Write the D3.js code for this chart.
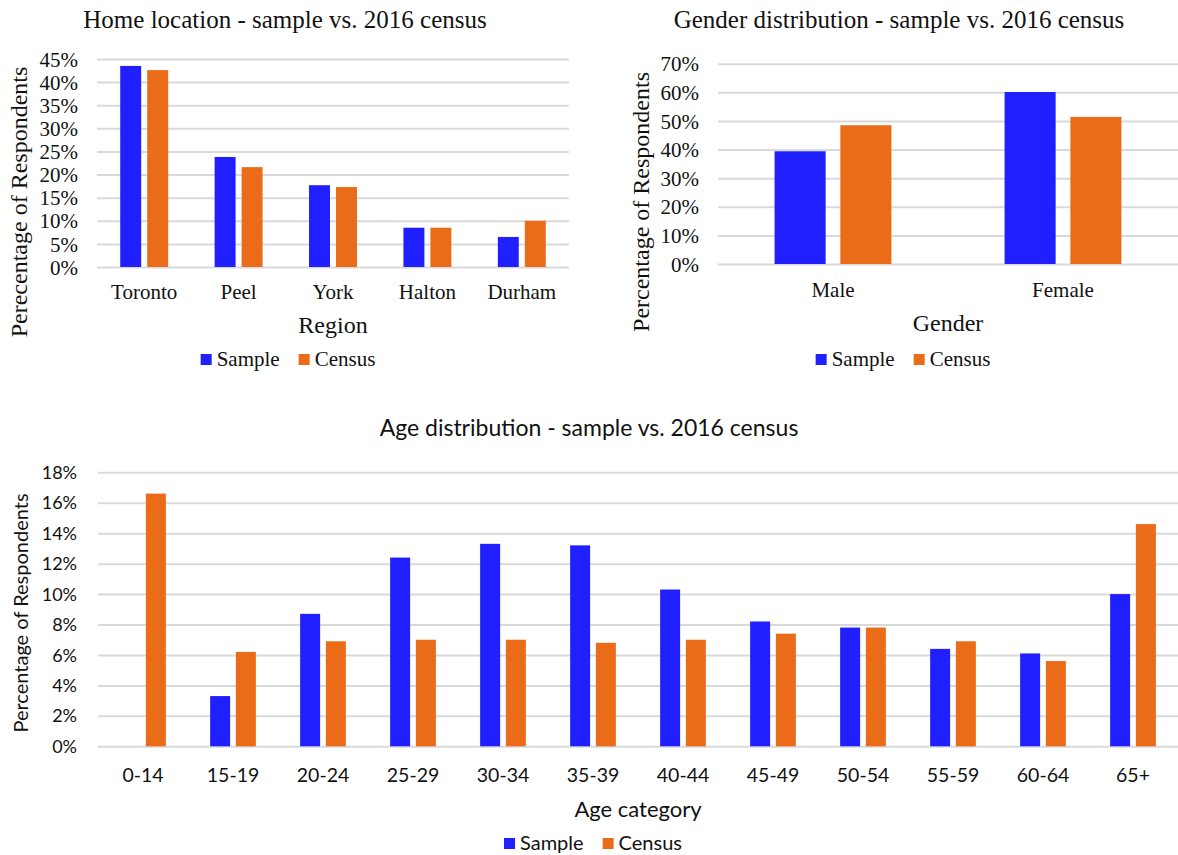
<!DOCTYPE html>
<html>
<head>
<meta charset="utf-8">
<script src="https://cdn.jsdelivr.net/npm/d3@7"></script>
<style>
  body { margin: 0; background: #fff; }
  svg { display: block; }
</style>
</head>
<body>
<svg id="chart" width="1178" height="855"></svg>
<script>
// series shared by all three panels
const series = ['Sample', 'Census']
const seriesColors = ['#1f1fff', '#ea6c18']

// home location
const regions = ['Toronto', 'Peel', 'York', 'Halton', 'Durham']
const regionSample = [43.5, 23.8, 17.7, 8.5, 6.5]
const regionCensus = [42.6, 21.6, 17.3, 8.5, 10.0]
const regionTicks = [0, 5, 10, 15, 20, 25, 30, 35, 40, 45]

// gender
const genders = ['Male', 'Female']
const genderSample = [39.4, 60.1]
const genderCensus = [48.5, 51.4]
const genderTicks = [0, 10, 20, 30, 40, 50, 60, 70]

// age
const ageGroups = ['0-14', '15-19', '20-24', '25-29', '30-34', '35-39', '40-44', '45-49', '50-54', '55-59', '60-64', '65+']
const ageSample = [0, 3.3, 8.7, 12.4, 13.3, 13.2, 10.3, 8.2, 7.8, 6.4, 6.1, 10.0]
const ageCensus = [16.6, 6.2, 6.9, 7.0, 7.0, 6.8, 7.0, 7.4, 7.8, 6.9, 5.6, 14.6]
const ageTicks = [0, 2, 4, 6, 8, 10, 12, 14, 16, 18]

let svg = d3.select('#chart')

function drawPanel(cfg) {
  let g = svg.append('g')

  let x0 = d3.scaleBand().domain(cfg.categories).range([cfg.left, cfg.right])
  let band = x0.bandwidth()
  let barW = band * 0.222
  let gap = band * 0.064
  let x1 = d3
    .scaleBand()
    .domain(series)
    .range([band / 2 - barW - gap / 2, band / 2 + barW + gap / 2])
    .paddingInner(gap / (barW + gap))

  let y = d3.scaleLinear().domain([0, cfg.max]).range([cfg.bottom, cfg.top])

  // gridlines + y tick labels
  let yAxis = d3
    .axisLeft(y)
    .tickValues(cfg.ticks)
    .tickSize(-(cfg.right - cfg.left))
    .tickPadding(cfg.tickPad)
    .tickFormat(d => d + '%')

  let ga = g
    .append('g')
    .attr('transform', `translate(${cfg.left},0)`)
    .call(yAxis)
  ga.select('.domain').remove()
  ga.selectAll('.tick line').attr('stroke', '#d9d9d9').attr('stroke-width', 2)
  ga.selectAll('.tick text')
    .attr('font-family', cfg.font)
    .attr('font-size', cfg.tickFont)
    .attr('fill', '#111')
    .attr('dy', '0.34em')

  // bars
  let rows = cfg.categories.map((c, i) => ({
    cat: c,
    values: [cfg.sample[i], cfg.census[i]]
  }))

  g.selectAll('.group')
    .data(rows)
    .enter()
    .append('g')
    .attr('class', 'group')
    .attr('transform', d => `translate(${x0(d.cat)},0)`)
    .selectAll('rect')
    .data(d => d.values.map((v, i) => ({ key: series[i], value: v, color: seriesColors[i] })))
    .enter()
    .append('rect')
    .attr('x', d => x1(d.key))
    .attr('width', x1.bandwidth())
    .attr('y', d => y(d.value))
    .attr('height', d => y(0) - y(d.value))
    .attr('fill', d => d.color)

  // category labels
  let xAxis = d3.axisBottom(x0).tickSize(0)
  let gx = g
    .append('g')
    .attr('transform', `translate(0,${cfg.bottom})`)
    .call(xAxis)
  gx.select('.domain').remove()
  gx.selectAll('.tick text')
    .attr('font-family', cfg.font)
    .attr('font-size', cfg.catFont)
    .attr('fill', '#111')
    .attr('dy', null)
    .attr('y', cfg.catY - cfg.bottom)

  // titles
  g.append('text')
    .text(cfg.title)
    .attr('x', cfg.titleX)
    .attr('y', cfg.titleY)
    .attr('text-anchor', 'middle')
    .attr('font-family', cfg.font)
    .attr('font-size', cfg.titleFont)
    .attr('fill', '#111')

  g.append('text')
    .text(cfg.xTitle)
    .attr('x', (cfg.left + cfg.right) / 2)
    .attr('y', cfg.xTitleY)
    .attr('text-anchor', 'middle')
    .attr('font-family', cfg.font)
    .attr('font-size', cfg.axisFont)
    .attr('fill', '#111')

  g.append('text')
    .text(cfg.yTitle)
    .attr('transform', `translate(${cfg.yTitleX},${cfg.yTitleY}) rotate(-90)`)
    .attr('text-anchor', 'middle')
    .attr('dominant-baseline', 'central')
    .attr('font-family', cfg.font)
    .attr('font-size', cfg.yTitleFont)
    .attr('fill', '#111')

  // legend
  let lg = g.append('g')
  let cursor = 0
  series.forEach((s, i) => {
    lg.append('rect')
      .attr('x', cursor)
      .attr('y', cfg.legendY - 12)
      .attr('width', 11)
      .attr('height', 11)
      .attr('fill', seriesColors[i])
    let t = lg
      .append('text')
      .text(s)
      .attr('x', cursor + 16)
      .attr('y', cfg.legendY)
      .attr('font-family', cfg.font)
      .attr('font-size', cfg.legendFont)
      .attr('fill', '#111')
    cursor += 16 + t.node().getComputedTextLength() + 19
  })
  let legendW = cursor - 19
  lg.attr('transform', `translate(${cfg.legendX - legendW / 2},0)`)
}

drawPanel({
  categories: regions,
  sample: regionSample,
  census: regionCensus,
  ticks: regionTicks,
  max: 45,
  left: 97,
  right: 569,
  top: 59,
  bottom: 267,
  tickPad: 19,
  font: 'Liberation Serif',
  tickFont: 21,
  catFont: 21,
  catY: 299,
  titleFont: 25,
  axisFont: 24,
  yTitleFont: 24,
  legendFont: 21,
  title: 'Home location - sample vs. 2016 census',
  titleX: 285,
  titleY: 28,
  xTitle: 'Region',
  xTitleY: 333,
  yTitle: 'Perecentage of Respondents',
  yTitleX: 19,
  yTitleY: 202,
  legendX: 288,
  legendY: 366
})

drawPanel({
  categories: genders,
  sample: genderSample,
  census: genderCensus,
  ticks: genderTicks,
  max: 70,
  left: 718,
  right: 1178,
  top: 63.7,
  bottom: 264,
  tickPad: 19,
  font: 'Liberation Serif',
  tickFont: 21,
  catFont: 21,
  catY: 297,
  titleFont: 25,
  axisFont: 24,
  yTitleFont: 24,
  legendFont: 21,
  title: 'Gender distribution - sample vs. 2016 census',
  titleX: 899,
  titleY: 28,
  xTitle: 'Gender',
  xTitleY: 331,
  yTitle: 'Percentage of Respondents',
  yTitleX: 641,
  yTitleY: 202,
  legendX: 903,
  legendY: 366
})

drawPanel({
  categories: ageGroups,
  sample: ageSample,
  census: ageCensus,
  ticks: ageTicks,
  max: 18,
  left: 98,
  right: 1178,
  top: 472.3,
  bottom: 746.3,
  tickPad: 21,
  font: 'Lato',
  tickFont: 18,
  catFont: 19.5,
  catY: 782,
  titleFont: 23,
  axisFont: 22,
  yTitleFont: 20,
  legendFont: 20,
  title: 'Age distribution - sample vs. 2016 census',
  titleX: 589,
  titleY: 436,
  xTitle: 'Age category',
  xTitleY: 817,
  yTitle: 'Percentage of Respondents',
  yTitleX: 20,
  yTitleY: 613,
  legendX: 593,
  legendY: 850
})
</script>
</body>
</html>
